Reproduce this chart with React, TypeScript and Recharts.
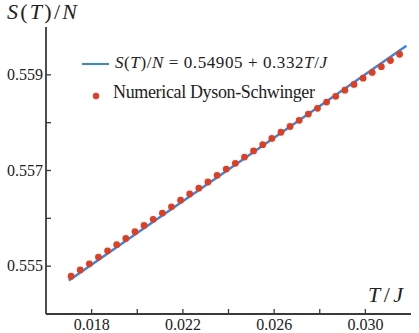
import { ComposedChart, Line, Scatter, XAxis, YAxis, Legend } from "recharts"

// numerical Dyson-Schwinger entropy
const temps = [
  0.0171, 0.0175, 0.0179, 0.0183, 0.0187, 0.0191, 0.0195, 0.0199, 0.0203, 0.0207,
  0.0211, 0.0215, 0.0219, 0.0223, 0.0227, 0.0231, 0.0235, 0.0239, 0.0243, 0.0247,
  0.0251, 0.0255, 0.0259, 0.0263, 0.0267, 0.0271, 0.0275, 0.0279, 0.0283, 0.0287,
  0.0291, 0.0295, 0.0299, 0.0303, 0.0307, 0.0311, 0.0315,
]
const entropy = [
  0.55479, 0.55492, 0.55505, 0.55519, 0.55532, 0.55545, 0.55558, 0.55572, 0.55585, 0.55598,
  0.55611, 0.55624, 0.55638, 0.55651, 0.55663, 0.55676, 0.5569, 0.55703, 0.55715, 0.55728,
  0.55741, 0.55754, 0.55767, 0.5578, 0.55792, 0.55805, 0.55818, 0.5583, 0.55843, 0.55855,
  0.55868, 0.5588, 0.55893, 0.55905, 0.55917, 0.5593, 0.55943,
]
// linear fit, endpoints of the drawn segment
const fitT = [0.017, 0.0318]
const fitS = [0.5547, 0.55961]

const xTicks = [0.018, 0.02, 0.022, 0.024, 0.026, 0.028, 0.03]
const xLabels = ["0.018", "0.022", "0.026", "0.030"]
const yTicks = [0.555, 0.556, 0.557, 0.558, 0.559]
const yLabels = ["0.555", "0.557", "0.559"]

const dsData = temps.map((T, i) => ({ T, S: entropy[i] }))
const fitData = fitT.map((T, i) => ({ T, S: fitS[i] }))

const FONT = "Liberation Serif"
const AXIS = "#3a3a3a"
const BLUE = "#2f86eb"
const RED = "#e63c1e"
const TICK = 5

const BottomTick = ({ x, y, payload }: any) => {
  const lab = payload.value.toFixed(3)
  return (
    <g>
      <line x1={x} y1={y} x2={x} y2={y - TICK} stroke={AXIS} strokeWidth={1.3} />
      {xLabels.includes(lab) && (
        <text x={x} y={y + 16} textAnchor="middle" fontSize={16} fontFamily={FONT} fill="#222">
          {lab}
        </text>
      )}
    </g>
  )
}

const TopTick = ({ x, y }: any) => (
  <line x1={x} y1={y} x2={x} y2={y + TICK} stroke={AXIS} strokeWidth={1.3} />
)

const LeftTick = ({ x, y, payload }: any) => {
  const lab = payload.value.toFixed(3)
  return (
    <g>
      <line x1={x} y1={y} x2={x + TICK} y2={y} stroke={AXIS} strokeWidth={1.3} />
      {yLabels.includes(lab) && (
        <text x={x - 3} y={y + 5} textAnchor="end" fontSize={16} fontFamily={FONT} fill="#222">
          {lab}
        </text>
      )}
    </g>
  )
}

const RightTick = ({ x, y }: any) => (
  <line x1={x} y1={y} x2={x - TICK} y2={y} stroke={AXIS} strokeWidth={1.3} />
)

const Overlay = () => (
  <svg width={419} height={333} style={{ display: "block" }}>
    <g fontFamily={FONT} fill="#222">
      <text x={7} y={19} fontSize={22} textLength={70} lengthAdjust="spacing">
        <tspan fontStyle="italic">S</tspan>(<tspan fontStyle="italic">T</tspan>)/<tspan fontStyle="italic">N</tspan>
      </text>
      <text x={368} y={302} fontSize={22} textLength={35} lengthAdjust="spacing">
        <tspan fontStyle="italic">T</tspan>/<tspan fontStyle="italic">J</tspan>
      </text>
      <line x1={82} y1={64} x2={109} y2={64} stroke={BLUE} strokeWidth={2} />
      <text x={115} y={68} fontSize={17} textLength={212} lengthAdjust="spacing">
        <tspan fontStyle="italic">S</tspan>(<tspan fontStyle="italic">T</tspan>)/<tspan fontStyle="italic">N</tspan>
        {" = 0.54905 + 0.332"}
        <tspan fontStyle="italic">T</tspan>/<tspan fontStyle="italic">J</tspan>
      </text>
      <circle cx={96} cy={96} r={3.2} fill={RED} />
      <text x={113} y={98} fontSize={18} textLength={202} lengthAdjust="spacing">
        Numerical Dyson-Schwinger
      </text>
    </g>
  </svg>
)

export default function App() {
  return (
    <div style={{ position: "absolute", left: 0, top: 0, width: 419, height: 333, background: "#fff" }}>
      <ComposedChart width={419} height={333} margin={{ top: 27, right: 8, bottom: 0, left: 0 }}>
        <XAxis
          xAxisId="b"
          dataKey="T"
          type="number"
          domain={[0.016, 0.032]}
          ticks={xTicks}
          interval={0}
          height={19}
          tickSize={0}
          tickMargin={0}
          tickLine={false}
          tick={<BottomTick />}
          axisLine={{ stroke: AXIS, strokeWidth: 1.8 }}
          allowDataOverflow
        />
        <XAxis
          xAxisId="t"
          orientation="top"
          dataKey="T"
          type="number"
          domain={[0.016, 0.032]}
          ticks={xTicks}
          interval={0}
          height={0}
          tickSize={0}
          tickMargin={0}
          tickLine={false}
          tick={<TopTick />}
          axisLine={{ stroke: AXIS, strokeWidth: 1.8 }}
          allowDataOverflow
        />
        <YAxis
          yAxisId="l"
          dataKey="S"
          type="number"
          domain={[0.554, 0.56]}
          ticks={yTicks}
          interval={0}
          width={46}
          tickSize={0}
          tickMargin={0}
          tickLine={false}
          tick={<LeftTick />}
          axisLine={{ stroke: AXIS, strokeWidth: 1.8 }}
          allowDataOverflow
        />
        <YAxis
          yAxisId="r"
          orientation="right"
          dataKey="S"
          type="number"
          domain={[0.554, 0.56]}
          ticks={yTicks}
          interval={0}
          width={0}
          tickSize={0}
          tickMargin={0}
          tickLine={false}
          tick={<RightTick />}
          axisLine={{ stroke: AXIS, strokeWidth: 1.8 }}
          allowDataOverflow
        />
        <Line
          xAxisId="b"
          yAxisId="l"
          data={fitData}
          dataKey="S"
          name="fit"
          stroke={BLUE}
          strokeWidth={2.4}
          dot={false}
          activeDot={false}
          isAnimationActive={false}
        />
        <Scatter
          xAxisId="t"
          yAxisId="r"
          data={dsData}
          dataKey="S"
          name="Numerical Dyson-Schwinger"
          fill={RED}
          shape={(p: any) => <circle cx={p.cx} cy={p.cy} r={3.4} fill={RED} />}
          isAnimationActive={false}
        />
        <Legend
          layout="vertical"
          align="center"
          verticalAlign="middle"
          content={() => <Overlay />}
          wrapperStyle={{ left: 0, top: 0, width: 419, height: 333, pointerEvents: "none" }}
        />
      </ComposedChart>
    </div>
  )
}
